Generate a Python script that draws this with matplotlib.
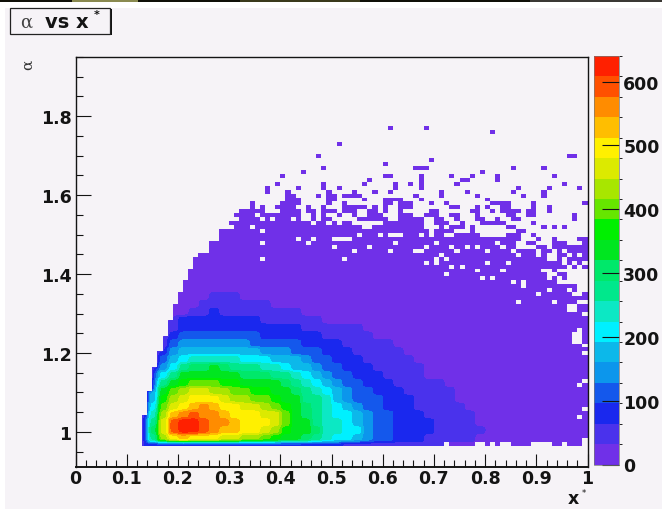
# alpha vs x* 2D histogram, ROOT style colz picture
import numpy as np
import matplotlib
matplotlib.use('Agg')
import matplotlib.pyplot as plt
from matplotlib.colors import ListedColormap, BoundaryNorm
from matplotlib.patches import Rectangle

W, H = 662, 510
BG = '#f6f3f7'
INK = '#141414'

# colour bands from the palette bar, 32 counts each
band_colors = ['#7030e8', '#4a32ec', '#1a28ee', '#1458ec', '#0c96ec', '#0cb8ea', '#00f0ff',
               '#0ce8c4', '#00e88c', '#00e86a', '#00e620', '#00f000', '#66e600', '#a8e600',
               '#dcea00', '#fff000', '#ffbe00', '#ff8c00', '#ff5000', '#ff2000']
band_width = 32
palette_ticks = [0, 100, 200, 300, 400, 500, 600]

x_ticks = [0, 0.1, 0.2, 0.3, 0.4, 0.5, 0.6, 0.7, 0.8, 0.9, 1]
x_tick_labels = ['0', '0.1', '0.2', '0.3', '0.4', '0.5', '0.6', '0.7', '0.8', '0.9', '1']
y_ticks = [1, 1.2, 1.4, 1.6, 1.8]
y_tick_labels = ['1', '1.2', '1.4', '1.6', '1.8']

bottom_strip = '22222222222222222222' + '1111111111'
core_rows = [
    '28dfgfffeeddcbaa98766543322211111',
    '29eijjihggffedbaa97766433222211111',
    '28eijjihhgfffecaa8776543322221111',
    '27dghihhgfffeeca98766543322211111',
    '16cefghgffeedcba9876543322211111',
    '15bdefffeddccbaa887543332221111',
    '15acdeeddccbbaa9876543322211111',
    '148abcccbbaaaa9876543322211111',
    '1368aaaaaa999887654332221111',
    '1246899a98887765543322211111',
    '013567777766655543322211111',
    '01245555555544433322211111',
    '0113444444433333222211111',
    '00123333333322222211111',
    '0011222222222222111111',
    '000122222222111111',
    '0000011211111111',
    '0000001111111',
    '0000000111',
]

# left edge of the filled area: up to row, first column
edge_rows = [7, 13, 19, 23, 27, 31, 35, 38, 41, 44, 47]
edge_cols = [13, 14, 15, 16, 17, 18, 19, 20, 21, 22, 23, 24]

# highest filled row for every two columns
solid_top = [47] * 12 + [48, 51, 54, 56, 57, 57, 56, 56, 56, 56, 56, 55, 55, 55, 56, 55, 54, 55, 55, 56,
                         58, 57, 53, 54, 52, 53, 53, 52, 52, 52, 51, 49, 47, 47, 45, 43, 40, 38]

# empty bins inside the filled area
hole_rows = [0, 0, 0, 0, 0, 0, 0, 0, 0, 0, 0, 0, 1, 7, 9, 15, 16, 23, 25, 26, 27, 28, 29, 26, 27, 28,
             34, 35, 34, 35, 33, 36, 36, 36, 36, 38, 39, 39, 38, 38, 35, 40, 41, 41, 41, 42, 41, 42, 42, 42,
             43, 43, 44, 43, 43, 44, 44, 44, 44, 45, 45, 45, 46, 46, 46, 46, 47, 47, 47, 47,
             48, 48, 48, 48, 49, 49, 49, 49, 49, 49, 49, 50, 50, 50, 50, 50, 50, 50, 50,
             51, 51, 51, 51, 51, 52, 52, 52, 52, 52, 52, 53, 53, 53, 53, 53, 53, 53, 53, 54, 54, 54, 54, 55, 55, 55, 55]
hole_cols = [72, 78, 79, 81, 83, 84, 89, 90, 91, 92, 95, 99, 99, 98, 99, 98, 99, 99, 99, 98, 98, 98, 98, 97, 97, 97,
             96, 96, 97, 97, 99, 86, 93, 99, 98, 90, 92, 96, 97, 98, 97, 87, 85, 87, 95, 79, 94, 81, 92, 94,
             72, 92, 78, 93, 97, 83, 91, 92, 98, 73, 75, 90, 68, 70, 80, 84, 36, 52, 70, 72,
             71, 86, 90, 96, 54, 61, 66, 67, 74, 80, 85, 50, 57, 68, 73, 76, 78, 83, 87,
             36, 45, 62, 70, 82, 43, 46, 50, 51, 52, 53, 55, 59, 61, 62, 63, 67, 69, 75, 36, 74, 79, 81, 30, 34, 68, 78]

# lone bins above the filled area
speck_rows = [80, 79, 76, 73, 72, 71, 70, 69, 68, 67, 66, 65, 64, 63, 62, 61, 60, 59, 58, 57, 56, 55, 54, 53, 52, 51, 50, 49, 48, 47, 46, 45]
speck_cols = [
    [61, 68],
    [81],
    [51],
    [47, 96, 97],
    [69],
    [60],
    [48, 66, 67, 68, 85, 91],
    [44, 79],
    [40, 60, 61, 67, 73, 77, 82, 93],
    [57, 67, 75, 76, 82],
    [39, 48, 56, 62, 65, 67, 74, 95],
    [37, 43, 48, 51, 62, 67, 86, 92, 98],
    [37, 41, 49, 54, 58, 61, 71, 76, 85, 91],
    [41, 42, 47, 49, 50, 52, 53, 54, 55, 66, 71, 78, 87, 91],
    [41, 42, 43, 49, 50, 56, 60, 61, 62, 63, 67, 80],
    [34, 40, 41, 42, 43, 49, 52, 60, 61, 63, 64, 65, 69, 72, 81, 82, 83, 84, 89, 99],
    [34, 36, 39, 40, 41, 42, 45, 48, 52, 53, 54, 55, 56, 58, 60, 63, 64, 65, 73, 74, 78, 80, 83, 84, 89, 92],
    [32, 33, 34, 35, 36, 40, 41, 42, 43, 45, 46, 48, 49, 50, 52, 53, 54, 57, 58, 60, 63, 69, 70, 77, 78, 81, 83, 84, 85, 86, 88, 89, 92],
    [31, 32, 33, 34, 36, 37, 38, 39, 40, 41, 42, 43, 46, 48, 51, 54, 57, 58, 59, 63, 64, 68, 69, 70, 73, 74, 78, 84, 85, 88, 89, 97],
    [35, 37, 39, 40, 41, 43, 46, 48, 49, 55, 56, 57, 58, 59, 60, 63, 64, 65, 67, 70, 71, 74, 78, 79, 82, 85, 86, 97],
    [47, 48, 50, 52, 60, 61, 62, 63, 70, 71, 72, 75, 79, 80, 81, 82, 83, 89],
    [62, 66, 67, 71, 73, 74, 75, 77, 84, 85, 91, 93, 95],
    [66, 68, 72, 73, 77, 86, 87],
    [75, 76, 78, 84, 85, 86, 89],
    [84, 85, 86, 90, 93, 98, 99],
    [88, 89, 93, 94, 95, 99],
    [90, 91, 93, 94, 95, 96, 97, 98, 99],
    [88, 89, 91, 92, 94, 96, 97, 98, 99],
    [87, 88, 89, 91, 94, 95, 97, 99],
    [89, 91, 94, 96, 97, 98, 99],
    [92, 93, 94, 96, 98],
    [90, 91, 92, 94, 95, 97, 99],
]

# build the bin table from the lists above
n_cols, n_rows = 100, 83
levels = np.full((n_rows, n_cols), np.nan)
for i, top in enumerate(solid_top):
    levels[:top + 1, 2 * i:2 * i + 2] = 0
for k, ch in enumerate(bottom_strip):
    levels[0, 12 + 2 * k:14 + 2 * k] = int(ch, 20)
for r, row in enumerate(core_rows):
    for k, ch in enumerate(row):
        levels[1 + 2 * r:3 + 2 * r, 12 + 2 * k:14 + 2 * k] = int(ch, 20)
for n in range(n_rows):
    levels[n, :edge_cols[np.searchsorted(edge_rows, n)]] = np.nan
for n, c in zip(hole_rows, hole_cols):
    levels[n, c] = np.nan
for n, cs in zip(speck_rows, speck_cols):
    levels[n, cs] = 0
counts = (levels + 0.5) * band_width

x_edges = np.linspace(0, 1, n_cols + 1)
y_edges = 0.964 + 0.01 * np.arange(n_rows + 1)

fig = plt.figure(figsize=(W / 100, H / 100), dpi=100, facecolor=BG)

def box(x0, y0, x1, y1):
    # pixel box, measured from the top left, to figure fractions
    return [x0 / W, 1 - y1 / H, (x1 - x0) / W, (y1 - y0) / H]

# screenshot border on the top and left
fig.patches.append(Rectangle((0, 1 - 9 / H), 1, 9 / H, transform=fig.transFigure, fc='white', ec='none'))
fig.patches.append(Rectangle((0, 0), 5 / W, 1, transform=fig.transFigure, fc='white', ec='none'))
fig.patches.append(Rectangle((0, 1 - 3 / H), 1, 3 / H, transform=fig.transFigure, fc='#101008', ec='none'))
fig.patches.append(Rectangle((72 / W, 1 - 3 / H), 66 / W, 3 / H, transform=fig.transFigure, fc='#8a8a50', ec='none'))
fig.patches.append(Rectangle((240 / W, 1 - 3 / H), 120 / W, 3 / H, transform=fig.transFigure, fc='#3a3a1c', ec='none'))
fig.patches.append(Rectangle((530 / W, 1 - 3 / H), 132 / W, 3 / H, transform=fig.transFigure, fc='#3a3834', ec='none'))

ax = fig.add_axes(box(75.5, 58, 587.5, 467.5), facecolor=BG)
cmap = ListedColormap(band_colors)
bounds = np.arange(len(band_colors) + 1) * band_width
norm = BoundaryNorm(bounds, cmap.N)

# picture is soft in the original: draw bins smoothed, then lay the empty bins on top sharp
filled = np.where(np.isnan(counts), band_width / 2, counts)
mesh = ax.imshow(filled, origin='lower', extent=[0, 1, y_edges[0], y_edges[-1]], aspect='auto', cmap=cmap, norm=norm,
                 interpolation='gaussian', filterrad=1.5, interpolation_stage='data')
empty = np.ma.masked_where(~np.isnan(counts), np.zeros_like(counts))
cover_edges = y_edges.copy()
cover_edges[-1] += 0.02  # hides the resampling seam on the top of the image
ax.pcolormesh(x_edges, cover_edges, empty, cmap=ListedColormap([BG]), antialiased=False, linewidth=0)

y_low = 1 - (467.5 - 432.7) / 397.5
y_high = 1 + (432.7 - 58) / 397.5
ax.set_xlim(0, 1)
ax.set_ylim(y_low, y_high)
ax.set_xticks(x_ticks)
ax.set_xticklabels(x_tick_labels)
ax.set_yticks(y_ticks)
ax.set_yticklabels(y_tick_labels)
ax.set_xticks(np.arange(0, 1.001, 0.02), minor=True)
ax.set_yticks(np.arange(0.95, 1.951, 0.05), minor=True)
ax.tick_params(axis='x', which='major', direction='in', length=9.5, width=0.8, color=INK, pad=2)
ax.tick_params(axis='x', which='minor', direction='in', length=5, width=0.8, color=INK)
ax.tick_params(axis='y', which='major', direction='in', length=10.5, width=0.8, color=INK, pad=3)
ax.tick_params(axis='y', which='minor', direction='in', length=5, width=0.8, color=INK)
for lab in ax.get_xticklabels() + ax.get_yticklabels():
    lab.set_fontweight('bold')
    lab.set_fontsize(12.5)
    lab.set_color(INK)
for s in ax.spines.values():
    s.set_linewidth(1.0)
    s.set_color(INK)
ax.spines['bottom'].set_linewidth(1.4)

# palette bar
cax = fig.add_axes(box(594, 57, 619, 465.5))
cb = fig.colorbar(mesh, cax=cax, boundaries=bounds, spacing='proportional')
cb.set_ticks(palette_ticks)
cb.set_ticklabels([str(v) for v in palette_ticks])
cb.outline.set_linewidth(0.5)
cb.outline.set_edgecolor('#777777')
cax.tick_params(direction='in', length=12, width=0.8, color=INK, pad=3, labelsize=12.5)
for lab in cax.get_yticklabels():
    lab.set_fontweight('bold')
    lab.set_color(INK)

def px_text(x, y, s, **kw):
    fig.text(x / W, 1 - y / H, s, **kw)

# title box with its drop shadow
fig.patches.append(Rectangle((12 / W, 1 - 36 / H), 100 / W, 26 / H, transform=fig.transFigure, fc='#111111', ec='none'))
fig.patches.append(Rectangle((10 / W, 1 - 34.5 / H), 100 / W, 25.5 / H, transform=fig.transFigure, fc=BG, ec='#222222', lw=0.9))
px_text(26, 23, '\u03b1', family='DejaVu Serif', fontsize=13, color='#444444', ha='center', va='center')
px_text(67, 22.5, 'vs x', fontweight='bold', fontsize=14, color=INK, ha='center', va='center')
px_text(97, 15, '*', fontweight='bold', fontsize=8, color=INK, ha='center', va='center')

# axis names
px_text(28, 65, '\u03b1', family='DejaVu Serif', fontsize=11, color='#333333', rotation=90, ha='center', va='center')
px_text(573, 499, 'x', fontweight='bold', fontsize=12.5, color=INK, ha='center', va='center')
px_text(584, 494, '*', fontsize=6, color=INK, ha='center', va='center')

fig.savefig('out.png', dpi=100, facecolor=BG)
